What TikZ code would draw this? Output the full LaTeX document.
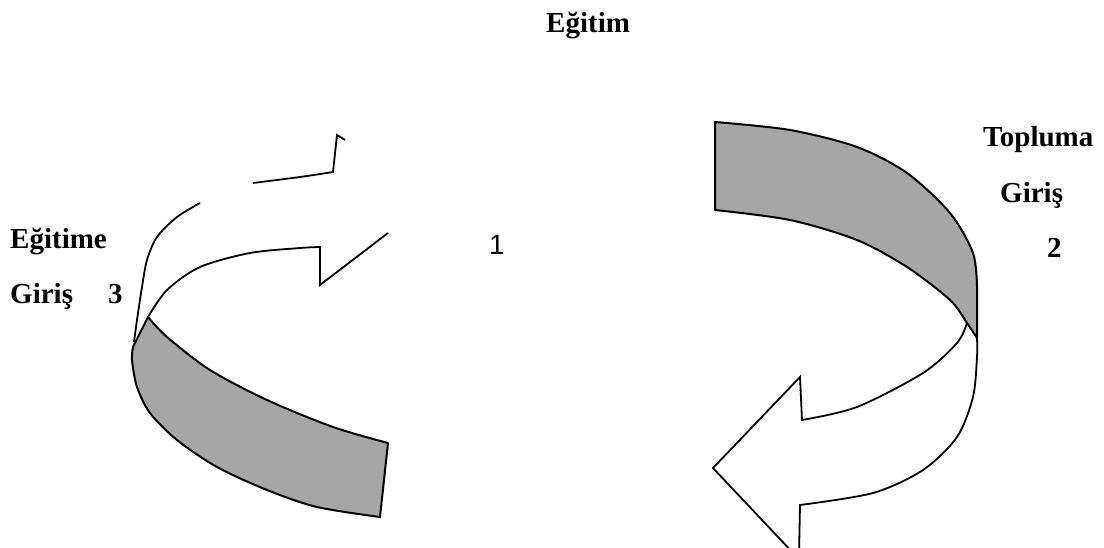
\documentclass[tikz,border=0pt]{standalone}
\usepackage{fontspec}
\setmainfont{Liberation Serif}
\newfontfamily\arialfont{Liberation Sans}
\tikzset{
  lbl/.style={anchor=base west, inner sep=0pt, font=\fontsize{29}{30}\selectfont\bfseries},
  num/.style={anchor=base west, inner sep=0pt, font=\fontsize{28}{30}\selectfont\arialfont},
  band/.style={draw=black, fill=black!35, line width=2pt, line join=round},
  edge/.style={draw=black, line width=1.8pt, line join=miter},
}
\begin{document}
\begin{tikzpicture}[x=1pt,y=-1pt]
\useasboundingbox (0,0) rectangle (1104,547);
\clip (0,0) rectangle (1104,547);

% ---------- left arrow ----------
% gray band
\path[band]
  plot[smooth] coordinates {(148,317) (167,337) (210,370) (267,400) (333,427) (388,443)}
  -- (380,517)
  -- plot[smooth] coordinates {(380,517) (317,507) (267,490) (217,467) (177,440) (150,413) (137,387) (132,360) (133,347)}
  -- cycle;
% white outer edge
\draw[edge] plot[smooth] coordinates {(200,203) (177,217) (157,237) (147,260) (142,287) (137,320) (134,342)};
% white inner edge with notch
\draw[edge] plot[smooth] coordinates {(148,317) (167,290) (200,267) (250,253) (300,248) (320,247)}
  -- (320,285) -- (388,233);
% top segment of head
\draw[edge] plot[smooth] coordinates {(253,183) (300,177) (333,172)}
  -- (337,135) -- (345,140);

% ---------- right arrow ----------
\path[band]
  plot[smooth] coordinates {(715,122) (790,130) (857,147) (907,173) (950,213) (973,253) (977,287)}
  -- (977,338)
  -- plot[smooth] coordinates {(977,338) (967,323) (950,300) (907,267) (857,240) (790,220) (715,210)}
  -- cycle;
% white lower part
\draw[edge] plot[smooth] coordinates {(967,323) (957,343) (923,373) (857,407) (802,420)}
  -- (800,377) -- (713,468) -- (795,555);
\draw[edge] plot[smooth] coordinates {(977,338) (977,357) (973,397) (957,437) (923,470) (873,493) (800,505)}
  -- (799,555);

% ---------- labels ----------
\node[lbl] (t0) at (546,32) {Eğitim};
\node[lbl] (t1) at (983,146) {Topluma};
\node[lbl] (t2) at (1000,202) {Giriş};
\node[lbl] (n2) at (1047,257) {2};
\node[lbl] (t3) at (10,248) {Eğitime};
\node[lbl] (t4) at (10,303) {Giriş};
\node[lbl] (n3) at (108,303) {3};
\node[num] (n1) at (489,254) {1};
\end{tikzpicture}
\end{document}
